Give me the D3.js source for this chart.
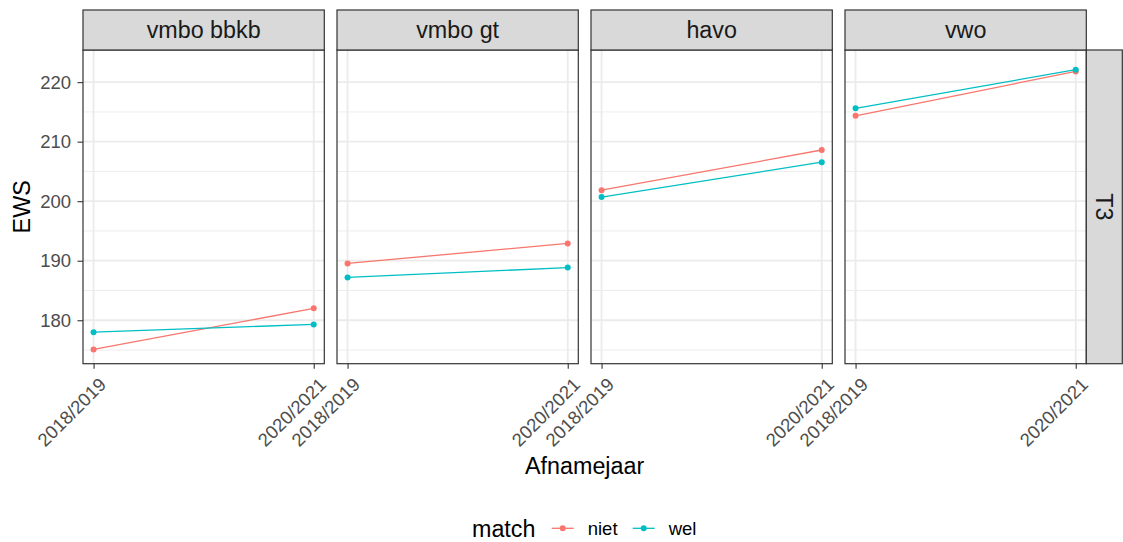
<!DOCTYPE html>
<html>
<head>
<meta charset="utf-8">
<script src="https://cdn.jsdelivr.net/npm/d3@7"></script>
<style>
  body { margin: 0; background: #fff; }
  text { font-family: "Liberation Sans", Arial, sans-serif; }
</style>
</head>
<body>
<div id="chart"></div>
<script>
// data
const niveaus = ["vmbo bbkb", "vmbo gt", "havo", "vwo"];
const jaren = ["2018/2019", "2020/2021"];
const groepen = ["niet", "wel"];
const nietEWS = [[175.1, 182.0], [189.55, 192.9], [201.85, 208.6], [214.35, 221.8]];
const welEWS = [[178.0, 179.3], [187.2, 188.85], [200.7, 206.55], [215.6, 222.1]];
const yTicks = [180, 190, 200, 210, 220];
const yMinor = [175, 185, 195, 205, 215];
const rijLabel = "T3";

const width = 1123, height = 542;
const margin = {left: 83, top: 50, bottom: 363.7};
const panelW = 241.3, panelGap = 12.7;
const stripH = 40, rightStripW = 36;
const titleSize = 23.3, tickSize = 18.5;
const kleur = d3.scaleOrdinal().domain(groepen).range(["#F8766D", "#00BFC4"]);

var svg = d3.select("#chart")
    .append("svg")
    .attr("width", width)
    .attr("height", height);

var yScale = d3.scaleLinear()
    .domain([172.7, 225.4])
    .range([margin.bottom, margin.top]);

var xScale = d3.scaleLinear()
    .domain([-0.048, 1.048])
    .range([0, panelW]);

var series = {niet: nietEWS, wel: welEWS};

niveaus.forEach(function(niveau, i) {
    var px = margin.left + i * (panelW + panelGap);
    var g = svg.append("g").attr("transform", "translate(" + px + ",0)");

    // grid
    g.selectAll(".minor").data(yMinor).enter().append("line")
        .attr("x1", 0).attr("x2", panelW)
        .attr("y1", d => yScale(d)).attr("y2", d => yScale(d))
        .attr("stroke", "#EBEBEB").attr("stroke-width", 0.9);
    g.selectAll(".major").data(yTicks).enter().append("line")
        .attr("x1", 0).attr("x2", panelW)
        .attr("y1", d => yScale(d)).attr("y2", d => yScale(d))
        .attr("stroke", "#EBEBEB").attr("stroke-width", 1.8);
    g.selectAll(".vmajor").data(jaren).enter().append("line")
        .attr("x1", (d, j) => xScale(j)).attr("x2", (d, j) => xScale(j))
        .attr("y1", margin.top).attr("y2", margin.bottom)
        .attr("stroke", "#EBEBEB").attr("stroke-width", 1.8);

    // lines + points
    groepen.forEach(function(grp) {
        var vals = series[grp][i];
        var line = d3.line()
            .x((d, j) => xScale(j))
            .y(d => yScale(d));
        g.append("path")
            .datum(vals)
            .attr("d", line)
            .attr("fill", "none")
            .attr("stroke", kleur(grp))
            .attr("stroke-width", 1.3);
        g.selectAll(".pt-" + grp).data(vals).enter().append("circle")
            .attr("cx", (d, j) => xScale(j))
            .attr("cy", d => yScale(d))
            .attr("r", 3)
            .attr("fill", kleur(grp));
    });

    // panel border
    g.append("rect")
        .attr("x", 0).attr("y", margin.top)
        .attr("width", panelW).attr("height", margin.bottom - margin.top)
        .attr("fill", "none").attr("stroke", "#333333").attr("stroke-width", 1.2);

    // strip
    g.append("rect")
        .attr("x", 0).attr("y", margin.top - stripH)
        .attr("width", panelW).attr("height", stripH)
        .attr("fill", "#D9D9D9").attr("stroke", "#333333").attr("stroke-width", 1.2);
    g.append("text")
        .attr("x", panelW / 2).attr("y", margin.top - stripH / 2)
        .attr("dy", "0.36em")
        .attr("text-anchor", "middle")
        .attr("font-size", titleSize)
        .attr("fill", "#1A1A1A")
        .text(niveau);

    // x axis
    var xAxis = g.append("g")
        .attr("transform", "translate(0," + margin.bottom + ")")
        .call(d3.axisBottom(xScale).tickValues([0, 1]).tickFormat(d => jaren[d]).tickSizeOuter(0).tickSize(5));
    xAxis.select(".domain").remove();
    xAxis.selectAll(".tick line").attr("stroke", "#333333").attr("stroke-width", 1.1);
    xAxis.selectAll("text")
        .attr("font-size", tickSize)
        .attr("fill", "#4D4D4D")
        .attr("transform", "translate(1,10)rotate(-45)")
        .attr("x", 0).attr("y", 4)
        .attr("dy", "0.71em")
        .style("text-anchor", "end");
});

// y axis
var yAxis = svg.append("g")
    .attr("transform", "translate(" + margin.left + ",0)")
    .call(d3.axisLeft(yScale).tickValues(yTicks).tickSize(5.5));
yAxis.select(".domain").remove();
yAxis.selectAll(".tick line").attr("stroke", "#333333").attr("stroke-width", 1.1);
yAxis.selectAll("text").attr("font-size", tickSize).attr("fill", "#4D4D4D").attr("x", -12);

// right strip
var rx = margin.left + 4 * panelW + 3 * panelGap;
svg.append("rect")
    .attr("x", rx).attr("y", margin.top)
    .attr("width", rightStripW).attr("height", margin.bottom - margin.top)
    .attr("fill", "#D9D9D9").attr("stroke", "#333333").attr("stroke-width", 1.2);
svg.append("text")
    .attr("transform", "translate(" + (rx + rightStripW / 2) + "," + ((margin.top + margin.bottom) / 2) + ")rotate(90)")
    .attr("dy", "0.36em")
    .attr("text-anchor", "middle")
    .attr("font-size", titleSize)
    .attr("fill", "#1A1A1A")
    .text(rijLabel);

// axis titles
svg.append("text")
    .attr("x", margin.left + (rx - margin.left) / 2).attr("y", 474)
    .attr("text-anchor", "middle")
    .attr("font-size", titleSize)
    .text("Afnamejaar");
svg.append("text")
    .attr("transform", "translate(30," + ((margin.top + margin.bottom) / 2) + ")rotate(-90)")
    .attr("text-anchor", "middle")
    .attr("font-size", titleSize)
    .text("EWS");

// legend
var legend = svg.append("g").attr("transform", "translate(0,528.3)");
legend.append("text")
    .attr("x", 472).attr("y", 0).attr("dy", "0.36em")
    .attr("font-size", titleSize)
    .text("match");
var keyX = [551.7, 632.7];
groepen.forEach(function(grp, k) {
    legend.append("line")
        .attr("x1", keyX[k]).attr("x2", keyX[k] + 22)
        .attr("y1", 0).attr("y2", 0)
        .attr("stroke", kleur(grp)).attr("stroke-width", 1.3);
    legend.append("circle")
        .attr("cx", keyX[k] + 11).attr("cy", 0).attr("r", 3)
        .attr("fill", kleur(grp));
    legend.append("text")
        .attr("x", keyX[k] + 36).attr("y", 0).attr("dy", "0.36em")
        .attr("font-size", tickSize)
        .text(grp);
});
</script>
</body>
</html>
